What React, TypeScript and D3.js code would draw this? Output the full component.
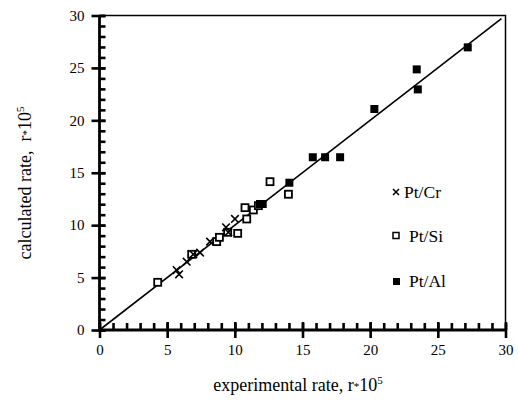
import React, { useEffect, useRef } from "react";
import * as d3 from "d3";

const ptCrX = [5.7, 5.88, 6.44, 6.93, 7.43, 8.17, 9.35, 9.52, 10.01];
const ptCrY = [5.72, 5.31, 6.52, 7.22, 7.38, 8.43, 9.8, 9.32, 10.59];

const ptSiX = [4.3, 6.81, 8.66, 8.86, 9.47, 10.21, 10.75, 10.88, 11.37, 11.74, 12.6, 13.96];
const ptSiY = [4.55, 7.22, 8.43, 8.84, 9.32, 9.22, 11.67, 10.59, 11.45, 11.86, 14.15, 12.95];

const ptAlX = [11.86, 12.06, 14.03, 15.76, 16.67, 17.78, 20.31, 23.44, 23.52, 27.21];
const ptAlY = [12.02, 12.02, 14.05, 16.48, 16.48, 16.48, 21.08, 24.86, 22.95, 26.96];

const majorTicks = [0, 5, 10, 15, 20, 25, 30];
const minorTicks = d3.range(0, 31, 1);
const fitLine = [0, 29.7];

const W = 518;
const H = 407;
const FONT = "Liberation Serif, Times New Roman, serif";

export default function App() {
  const ref = useRef<SVGSVGElement>(null);

  useEffect(() => {
    const svg = d3.select(ref.current);
    svg.selectAll("*").remove();
    const x = d3.scaleLinear().domain([0, 30]).range([99.5, 505.5]);
    const y = d3.scaleLinear().domain([0, 30]).range([330, 15.5]);
    const x0 = x(0);
    const y0 = y(0);

    // frame top/right
    svg
      .append("path")
      .attr("d", `M${x0},${y(30)}H${x(30)}V${y0}`)
      .attr("fill", "none")
      .attr("stroke", "#000")
      .attr("stroke-width", 1.5);

    // x minor ticks (inside)
    const gxm = svg.append("g").attr("transform", `translate(0,${y0})`);
    gxm.call(d3.axisTop(x).tickValues(minorTicks).tickSize(7).tickFormat(() => ""));
    // x major ticks + labels
    const gx = svg.append("g").attr("transform", `translate(0,${y0 + 8})`);
    gx.call(d3.axisTop(x).tickValues(majorTicks).tickSize(16).tickFormat(() => ""));
    const gxl = svg.append("g").attr("transform", `translate(0,${y0})`);
    gxl.call(d3.axisBottom(x).tickValues(majorTicks).tickSize(0).tickPadding(14).tickFormat(d3.format("d")));
    gxl.select(".domain").remove();

    // y minor ticks
    const gym = svg.append("g").attr("transform", `translate(${x0},0)`);
    gym.call(d3.axisRight(y).tickValues(minorTicks).tickSize(6).tickFormat(() => ""));
    const gy = svg.append("g").attr("transform", `translate(${x0 - 8},0)`);
    gy.call(d3.axisRight(y).tickValues(majorTicks).tickSize(14).tickFormat(() => ""));
    const gyl = svg.append("g").attr("transform", `translate(${x0},0)`);
    gyl.call(d3.axisLeft(y).tickValues(majorTicks).tickSize(0).tickPadding(15).tickFormat(d3.format("d")));
    gyl.select(".domain").remove();

    [gxm, gx, gym, gy].forEach((g) => {
      g.select(".domain").remove();
      g.selectAll(".tick line").attr("stroke", "#000").attr("stroke-width", 2.6);
    });
    [gxl, gyl].forEach((g) => {
      g.selectAll(".tick text")
        .attr("font-family", FONT)
        .attr("font-size", 15)
        .attr("fill", "#000");
    });

    // main axis lines
    svg
      .append("path")
      .attr("d", `M${x0},${y(30)}V${y0}H${x(30)}`)
      .attr("fill", "none")
      .attr("stroke", "#000")
      .attr("stroke-width", 2.8);

    // diagonal
    const line = d3
      .line<number>()
      .x((d) => x(d))
      .y((d) => y(d));
    svg
      .append("path")
      .attr("d", line(fitLine) || "")
      .attr("fill", "none")
      .attr("stroke", "#000")
      .attr("stroke-width", 1.6);

    // Pt/Si
    svg
      .append("g")
      .selectAll("rect")
      .data(ptSiX.map((v, i) => [v, ptSiY[i]]))
      .join("rect")
      .attr("x", (d) => x(d[0]) - 3.5)
      .attr("y", (d) => y(d[1]) - 3.5)
      .attr("width", 7)
      .attr("height", 7)
      .attr("fill", "#fff")
      .attr("stroke", "#000")
      .attr("stroke-width", 1.8);

    // Pt/Al
    svg
      .append("g")
      .selectAll("rect")
      .data(ptAlX.map((v, i) => [v, ptAlY[i]]))
      .join("rect")
      .attr("x", (d) => x(d[0]) - 4)
      .attr("y", (d) => y(d[1]) - 4)
      .attr("width", 8)
      .attr("height", 8)
      .attr("fill", "#000");

    // Pt/Cr
    const s = 3.8;
    svg
      .append("g")
      .selectAll("path")
      .data(ptCrX.map((v, i) => [v, ptCrY[i]]))
      .join("path")
      .attr("d", (d) => {
        const cx = x(d[0]);
        const cy = y(d[1]);
        return `M${cx - s},${cy - s}L${cx + s},${cy + s}M${cx - s},${cy + s}L${cx + s},${cy - s}`;
      })
      .attr("stroke", "#000")
      .attr("stroke-width", 1.6);

    // legend
    svg
      .append("path")
      .attr("d", "M393,189L399,195M393,195L399,189")
      .attr("stroke", "#000")
      .attr("stroke-width", 1.5);
    svg.append("rect").attr("x", 393).attr("y", 232.5).attr("width", 6).attr("height", 6)
      .attr("fill", "#fff").attr("stroke", "#000").attr("stroke-width", 1.5);
    svg.append("rect").attr("x", 393).attr("y", 278).attr("width", 7).attr("height", 7).attr("fill", "#000");
    const legend = [
      { t: "Pt/Cr", x: 404, y: 198 },
      { t: "Pt/Si", x: 409, y: 242 },
      { t: "Pt/Al", x: 409, y: 287 },
    ];
    legend.forEach((l) => {
      svg.append("text").attr("x", l.x).attr("y", l.y).attr("font-family", FONT)
        .attr("font-size", 17.5).attr("fill", "#000").text(l.t);
    });

    // axis titles
    const xt = svg.append("text").attr("x", 298).attr("y", 391).attr("text-anchor", "middle")
      .attr("font-family", FONT).attr("font-size", 18).attr("fill", "#000");
    xt.append("tspan").text("experimental rate, r");
    xt.append("tspan").attr("font-size", 11).attr("dy", -1).text("*");
    xt.append("tspan").attr("dy", 1).text("10");
    xt.append("tspan").attr("font-size", 11).attr("dy", -7).text("5");

    const yt = svg.append("text").attr("transform", "translate(31,183) rotate(-90)")
      .attr("text-anchor", "middle").attr("font-family", FONT).attr("font-size", 18).attr("fill", "#000");
    yt.append("tspan").text("calculated rate,\u00a0\u00a0r");
    yt.append("tspan").attr("font-size", 11).attr("dy", -1).text("*");
    yt.append("tspan").attr("dy", 1).text("10");
    yt.append("tspan").attr("font-size", 11).attr("dy", -7).text("5");
  }, []);

  return (
    <svg
      ref={ref}
      width={W}
      height={H}
      style={{ position: "absolute", left: 0, top: 0, background: "#fff" }}
    />
  );
}
